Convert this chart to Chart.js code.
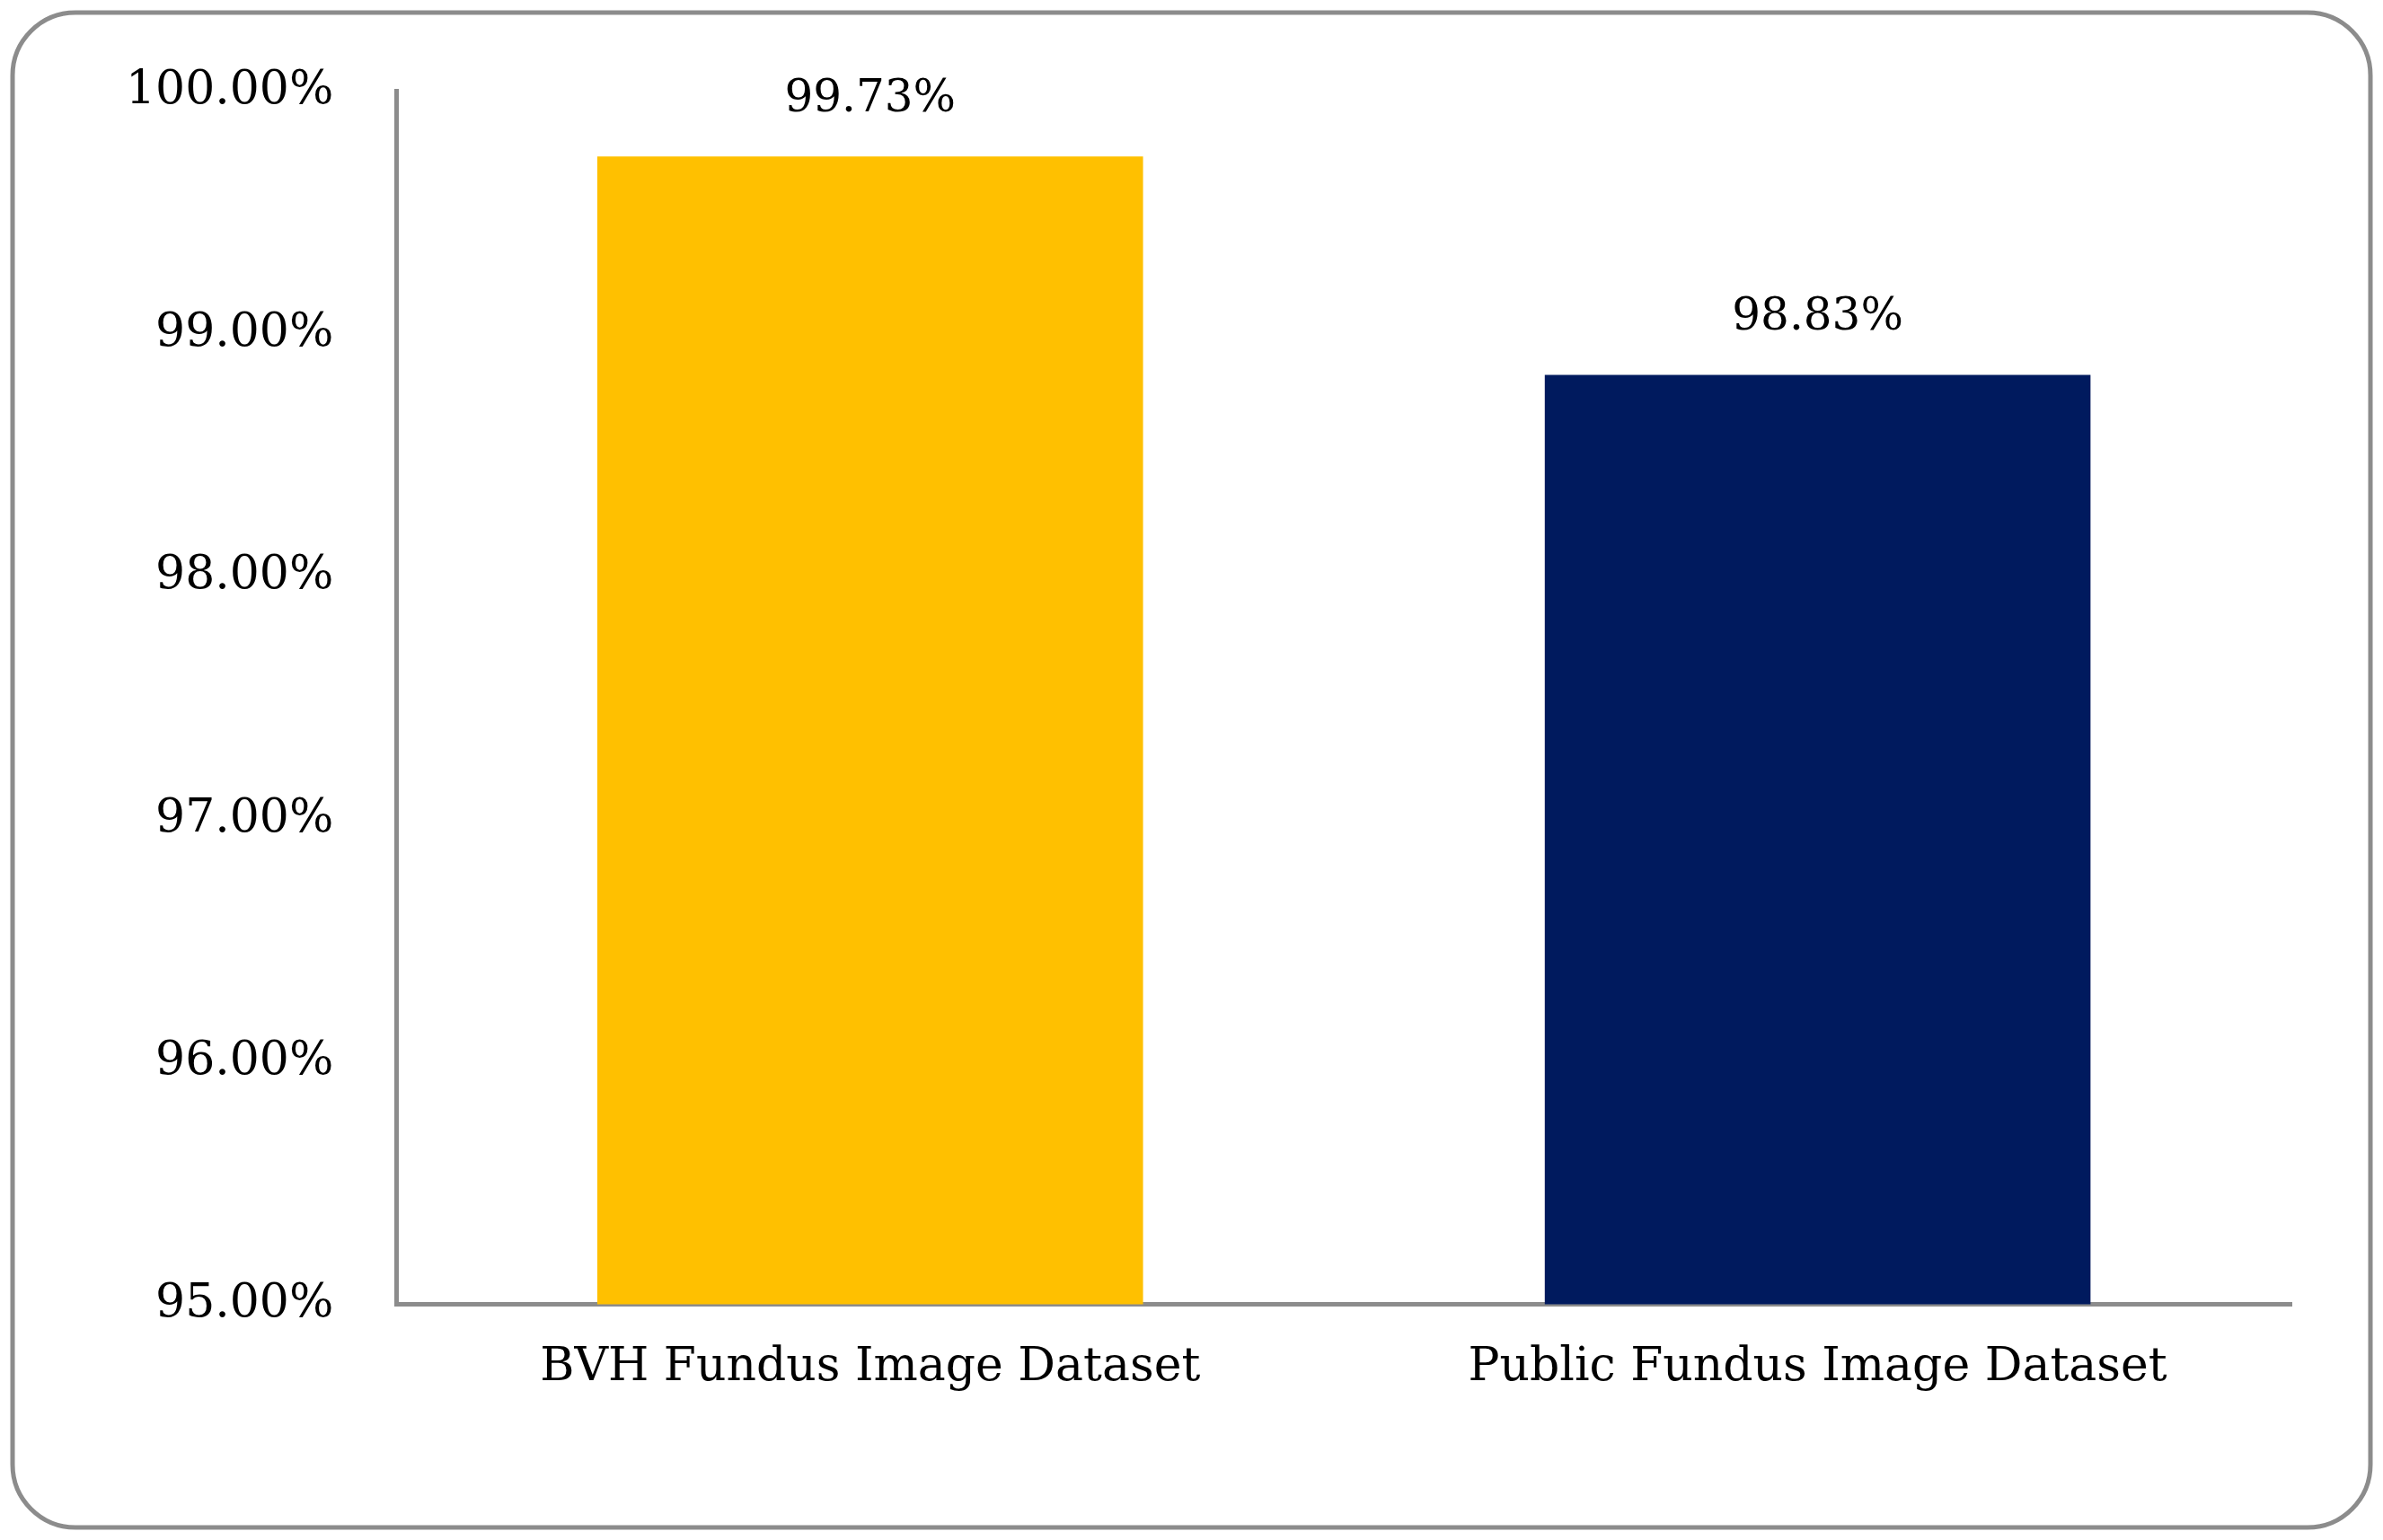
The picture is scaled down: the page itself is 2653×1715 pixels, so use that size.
<!DOCTYPE html>
<html>
<head>
<meta charset="utf-8">
<script src="https://cdn.jsdelivr.net/npm/chart.js@4/dist/chart.umd.min.js"></script>
<style>
  html, body { margin: 0; padding: 0; background: #fff; }
  #wrap { width: 2653px; height: 1715px; }
</style>
</head>
<body>
<div id="wrap"><canvas id="chart"></canvas></div>
<script>
var categories = ["BVH Fundus Image Dataset", "Public Fundus Image Dataset"];
var accuracy = [99.73, 98.83];
var barColors = ["#FFC000", "#001A5E"];

var fontFamily = "'DejaVu Serif', 'Liberation Serif', serif";

// rounded frame around the whole figure
var framePlugin = {
  id: "frame",
  beforeDraw: function(chart) {
    var ctx = chart.ctx;
    ctx.save();
    ctx.fillStyle = "#fff";
    ctx.fillRect(0, 0, chart.width, chart.height);
    ctx.strokeStyle = "#8c8c8c";
    ctx.lineWidth = 5;
    ctx.beginPath();
    ctx.roundRect(14, 14, chart.width - 28, chart.height - 28, 70);
    ctx.stroke();
    ctx.restore();
  }
};

// value labels above bars
var labelPlugin = {
  id: "valueLabels",
  afterDatasetsDraw: function(chart) {
    var ctx = chart.ctx;
    var meta = chart.getDatasetMeta(0);
    ctx.save();
    ctx.fillStyle = "#000";
    ctx.font = "50px " + fontFamily;
    ctx.textAlign = "center";
    ctx.textBaseline = "bottom";
    meta.data.forEach(function(bar, i) {
      ctx.fillText(accuracy[i].toFixed(2) + "%", bar.x, bar.y - 38);
    });
    ctx.restore();
  }
};

new Chart(document.getElementById("chart"), {
  type: "bar",
  data: {
    labels: categories,
    datasets: [{
      data: accuracy,
      backgroundColor: barColors,
      categoryPercentage: 1.0,
      barPercentage: 0.576
    }]
  },
  options: {
    responsive: true,
    maintainAspectRatio: false,
    animation: false,
    layout: { padding: { top: 101, right: 102, left: 70, bottom: 120 } },
    plugins: { legend: { display: false }, tooltip: { enabled: false } },
    scales: {
      x: {
        grid: { display: false, drawTicks: false },
        border: { color: "#8c8c8c", width: 5 },
        ticks: { color: "#000", font: { family: fontFamily, size: 52 }, padding: 40 }
      },
      y: {
        min: 95, max: 100,
        grid: { display: false, drawTicks: false },
        border: { color: "#8c8c8c", width: 5 },
        ticks: {
          stepSize: 1, color: "#000", padding: 70,
          font: { family: fontFamily, size: 52 },
          callback: function(v) { return v.toFixed(2) + "%"; }
        }
      }
    }
  },
  plugins: [framePlugin, labelPlugin]
});
</script>
</body>
</html>
